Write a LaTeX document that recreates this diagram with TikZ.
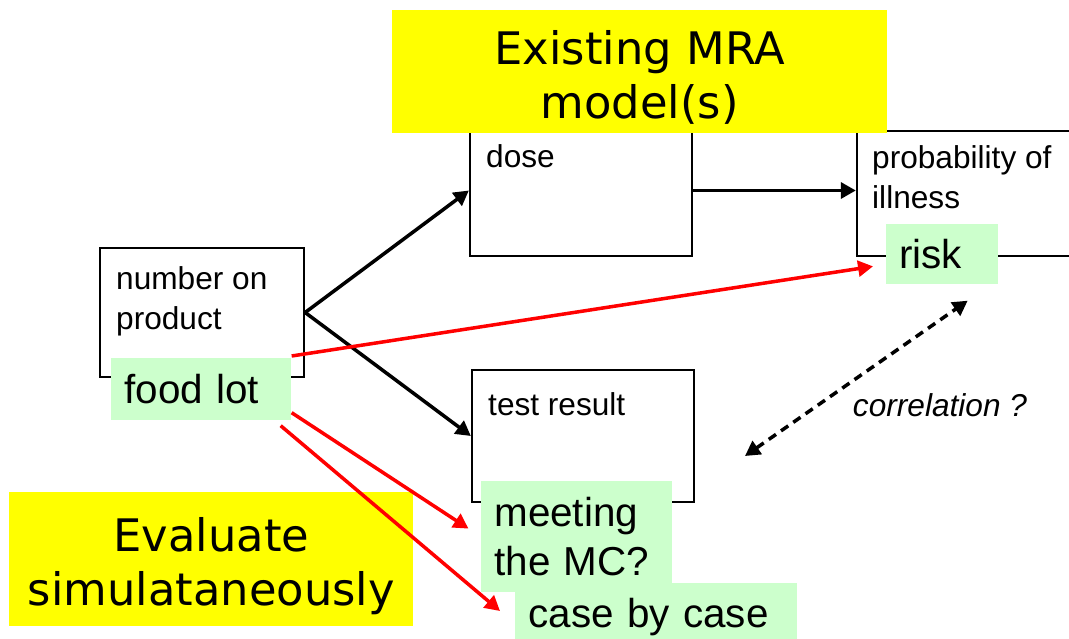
\documentclass[tikz,border=0pt]{standalone}
\usepackage{fontspec}
\setmainfont{Liberation Sans}
\newfontfamily\headfont{DejaVu Sans}
\usetikzlibrary{arrows.meta,positioning,calc,fit}

\definecolor{hiyellow}{RGB}{255,255,0}
\definecolor{higreen}{RGB}{204,255,204}

\begin{document}
\begin{tikzpicture}[
    x=0.02cm, y=-0.02cm,
    >={Triangle[width=9pt,length=8.5pt]},
    box/.style={draw, line width=1.3pt, fill=white, inner sep=0pt},
    boxtext/.style={anchor=north west, inner sep=0pt, align=left,
                    font=\fontsize{18}{23}\selectfont},
    tag/.style={fill=higreen, anchor=north west, align=left, inner xsep=0.26cm,
                inner ysep=0pt, font=\fontsize{23}{28}\selectfont},
    banner/.style={fill=hiyellow, anchor=north west, align=center, inner sep=0pt,
                   font=\headfont\fontsize{25.5}{31}\selectfont},
    arr/.style={->, line width=2pt, black},
    link/.style={->, line width=2pt, red},
    corr/.style={<->, line width=2pt, black, dash pattern=on 5pt off 3.5pt}
  ]

  \clip (0,0) rectangle (1069,639);
  \fill[white] (0,0) rectangle (1069,639);

  % ---------- model boxes --------------------------------------------------
  \node[box, fit={(100,248) (304,377)}] (num)  {};
  \node[box, fit={(470,125) (692,256)}] (dose) {};
  \node[box, fit={(857,131) (1090,256)}] (prob) {};
  \node[box, fit={(472,370) (694,502)}] (test) {};

  \node[boxtext] (numtxt)  at ($(num.north west)+(17,19)$)  {number on\\product};
  \node[boxtext] (dosetxt) at ($(dose.north west)+(17,20)$) {dose};
  \node[boxtext] (probtxt) at ($(prob.north west)+(16,15)$) {probability of\\illness};
  \node[boxtext] (testtxt) at ($(test.north west)+(17,23)$) {test result};

  % ---------- banners ------------------------------------------------------
  \node[banner, minimum width=9.9cm, minimum height=2.46cm] (mra) at (392,10)
        {\rule{0pt}{26pt}Existing MRA\\model(s)};
  \node[banner, minimum width=8.08cm, minimum height=2.68cm] (evalsim) at (9,492)
        {\rule{0pt}{27pt}Evaluate\\simulataneously};

  % ---------- green labels -------------------------------------------------
  \node[tag, text width=3.08cm, minimum height=1.24cm] (food) at (111,358) {food lot};
  \node[tag, text width=1.72cm, minimum height=1.2cm]  (risk) at (886,224) {risk};
  \node[tag, text width=5.12cm, minimum height=1.36cm] (case) at (515,583) {case by case};
  \node[tag, text width=3.30cm, minimum height=2.22cm] (meet) at (481,481) {meeting\\the MC?};

  % ---------- flow ---------------------------------------------------------
  \draw[arr] (num.east) -- (dose.west);
  \draw[arr] (num.east) -- (test.west);
  \draw[arr] (dose.east) -- (dose.east -| prob.west);

  % red links out of the food lot
  \coordinate (riskin) at ($(risk.west)+(-13,12)$);
  \coordinate (foodout) at ($(food.south east)+(-11,5)$);
  \draw[link] ($(food.north east)+(0,-2)$) -- (riskin);
  \draw[link, shorten >=0.3cm] ($(food.south east)+(0,-8)$) -- (meet.west);
  \draw[link] (foodout) -- ($(case.north west)+(-15,28)$);

  % ---------- correlation --------------------------------------------------
  \coordinate (corrlo) at (745,456);
  \coordinate (corrhi) at ($(risk.south east)+(-31,16)$);
  \draw[corr] (corrlo) -- (corrhi);
  \node[font=\itshape\fontsize{18}{20}\selectfont, inner sep=0pt] (corrtxt) at (940,405)
        {correlation ?};

\end{tikzpicture}
\end{document}
